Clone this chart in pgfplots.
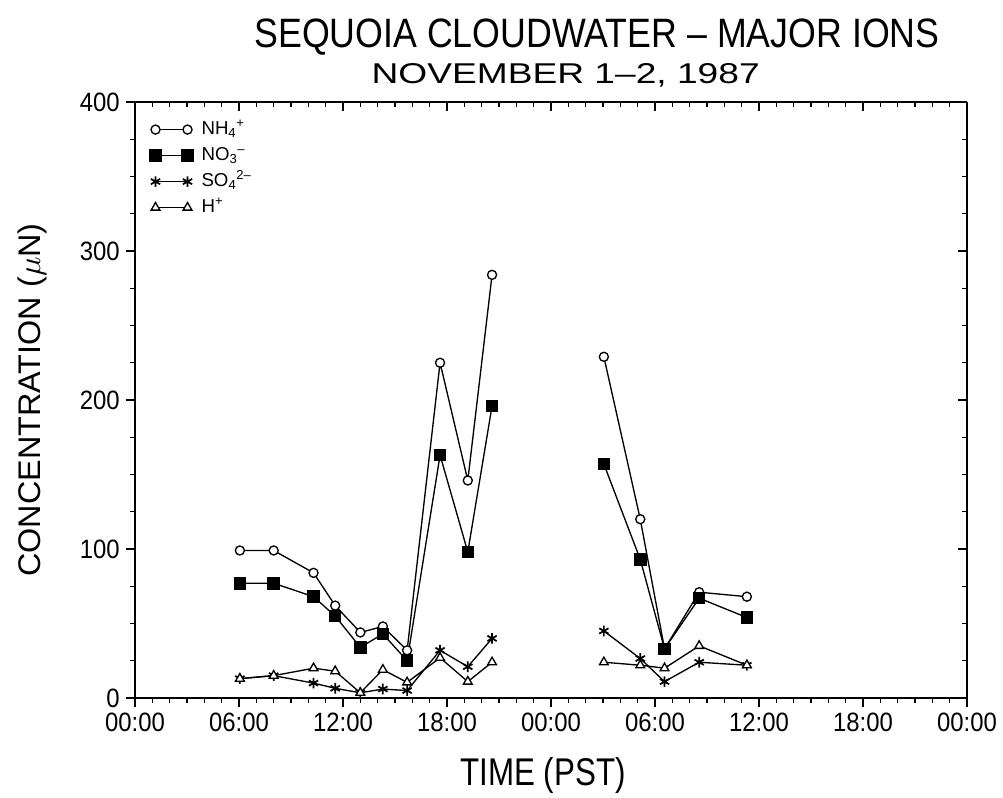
\documentclass[border=0pt]{standalone}
\usepackage{fontspec}
\usepackage{amsmath}
\usepackage{pgfplots}
\usepackage{pgfplotstable}
\pgfplotsset{compat=1.18}
\setmainfont{Liberation Sans}
\newfontfamily\ticksf{Liberation Sans}[FakeStretch=0.9]

% Cloudwater samples; time in hours from 00:00 on November 1 (PST).
% The nan row splits the two cloud events.
\pgfplotstableread{
t     nh   no   so   h
6.05  99   77   13   13
8.0   99   77   15   15
10.3  84   68   10   20
11.55 62   55   6.5  18
13.0  44   34   3.5  3.5
14.3  48   43   6    19
15.7  32   25   5    10.5
17.6  225  163  32   27
19.2  146  98   21   11
20.6  284  196  40   24
nan   nan  nan  nan  nan
27.05 229  157  45   24
29.15 120  93   26.5 22
30.55 33   33   11   20
32.55 71   67   24   35
35.3  68   54   22   22
}\ions

\pgfplotsset{
  ionaxis/.style={
    scale only axis, width=624pt, height=447pt,
    at={(0,0)}, anchor=south west,
    xmin=0, xmax=48, ymin=0, ymax=400,
    xtick={0,6,...,48}, minor x tick num=5,
    ytick={0,100,...,400}, minor y tick num=3,
    major tick length=7pt, minor tick length=3.8pt,
    every tick/.style={black, line width=0.8pt},
    axis line style={line width=1pt},
  },
}

\begin{document}
\begin{tikzpicture}
\useasboundingbox (-101.25pt,-74.25pt) rectangle (651pt,523.5pt);

% ticks on the top and right edges point into the frame
\begin{axis}[ionaxis,
  axis x line*=top, axis y line*=right, tick align=inside,
  xticklabels={}, yticklabels={}]
\end{axis}

\begin{axis}[ionaxis,
  axis x line*=bottom, axis y line*=left, tick align=outside,
  xticklabels={00:00,06:00,12:00,18:00,00:00,06:00,12:00,18:00,00:00},
  /pgf/number format/assume math mode=true,
  tick label style={font=\ticksf\fontsize{19.9}{20}\selectfont},
  xticklabel style={yshift=-1pt},
  yticklabel style={xshift=-1pt},
  unbounded coords=jump,
  every axis plot/.append style={black, line width=1pt},
  legend style={draw=none, fill=none, at={(rel axis cs:0,1)}, anchor=north west,
    xshift=8pt, yshift=-11pt, font=\fontsize{14}{14}\selectfont,
    nodes={inner sep=1pt, text height=10pt, text depth=3pt},
    row sep=4.5pt},
  legend cell align=left,
  legend image code/.code={%
    \draw[#1] plot coordinates {(0pt,0pt) (24pt,0pt)};
    \path (33pt,0pt);},
]
\addplot[mark=*, mark size=3.4pt, mark options={fill=white, solid}] table[x=t, y=nh] {\ions};
\addplot[mark=square*, mark size=4.2pt, mark options={fill=black, solid}] table[x=t, y=no] {\ions};
\addplot[mark=asterisk, mark size=4pt, mark options={solid, line width=1.3pt}] table[x=t, y=so] {\ions};
\addplot[mark=triangle*, mark size=3.8pt, mark options={fill=white, solid}] table[x=t, y=h] {\ions};
\legend{NH$_{\text{4}}{}^{\text{+}}$, NO$_{\text{3}}{}^{\text{--}}$, SO$_{\text{4}}{}^{\text{2--}}$, H$^{\text{+}}$}
\end{axis}

% titles and axis labels
\node at (346.5pt,496pt) {\resizebox{514pt}{21.5pt}{SEQUOIA CLOUDWATER -- MAJOR IONS}};
\node at (323pt,467pt) {\resizebox{291pt}{15pt}{NOVEMBER 1--2, 1987}};
\node at (306pt,-57.75pt) {\resizebox{124pt}{21pt}{TIME (PST)}};
\node[rotate=90] at (-77.25pt,223.5pt) {\resizebox{265pt}{17pt}{CONCENTRATION ($\mu$N)}};
\end{tikzpicture}
\end{document}
